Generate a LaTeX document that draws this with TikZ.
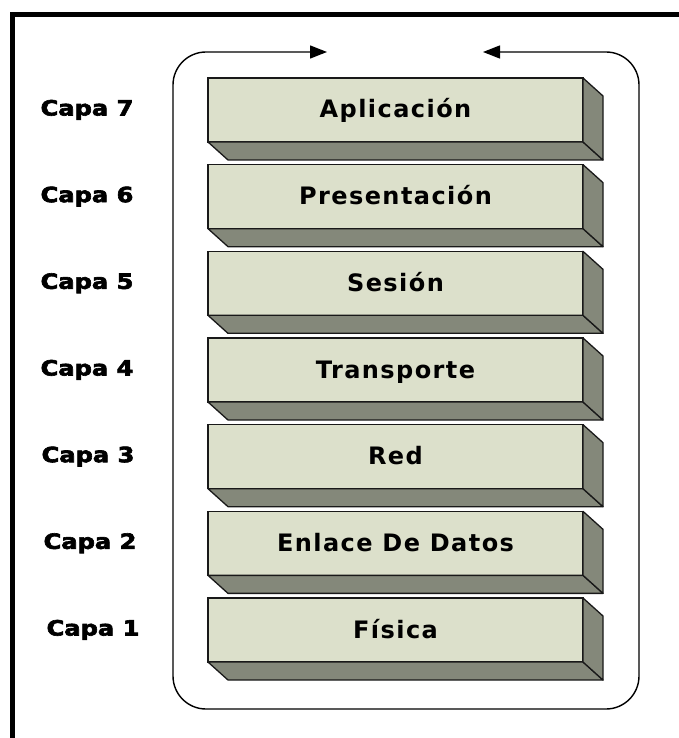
\documentclass[tikz,border=0pt]{standalone}
\usepackage{fontspec}
\setmainfont{DejaVu Sans}
\newfontfamily\layerfont{DejaVu Sans}[LetterSpace=6]
\newfontfamily\capafont{DejaVu Sans}[FakeStretch=1.15,FakeBold=3]
\usetikzlibrary{arrows.meta}
\definecolor{frontc}{RGB}{220,224,203}
\definecolor{sidec}{RGB}{132,136,122}
\definecolor{edgec}{RGB}{25,25,25}
\tikzset{
  frontbox/.style={draw=edgec, line width=1.3pt, fill=frontc, minimum width=375pt,
    minimum height=64pt, inner sep=0pt, outer sep=0pt, anchor=north west},
  face/.style={draw=edgec, line width=1.3pt, fill=sidec, line join=round},
  layertxt/.style={font=\layerfont\bfseries\fontsize{24}{26}\selectfont, anchor=base, inner sep=0pt},
  capatxt/.style={font=\capafont\bfseries\fontsize{21}{24}\selectfont, anchor=base, inner sep=0pt},
  loopline/.style={draw=black, line width=1.4pt, rounded corners=33pt,
    {Triangle[length=17pt,width=13pt]}-{Triangle[length=17pt,width=13pt]}},
  frame/.style={draw=black, line width=5pt}
}
\begin{document}
\begin{tikzpicture}[x=1pt,y=-1pt]
\useasboundingbox (0,0) rectangle (679,738);
\fill[white] (0,0) rectangle (679,738);
\draw[frame] (12.5,738) -- (12.5,14.5) -- (679,14.5);
\coordinate (arrR) at (483,52);
\coordinate (arrL) at (327,52);
\draw[loopline] (arrR) -- (639,52) -- (639,709) -- (173,709) -- (173,52) -- (arrL);
\foreach \txt/\cx [count=\k from 0] in {Aplicación/87, Presentación/87, Sesión/87, Transporte/87, Red/88, Enlace De Datos/90, Física/93} {
  \pgfmathsetmacro\yt{78+\k*86.67}
  \pgfmathtruncatemacro\cap{7-\k}
  \node[frontbox] (L\cap) at (208,\yt) {};
  \draw[face] (L\cap.south west) -- (L\cap.south east) -- ++(20,18) -- ++(-375,0) -- cycle;
  \draw[face] (L\cap.north east) -- ++(20,18) -- ++(0,64) -- (L\cap.south east) -- cycle;
  \node[layertxt] (T\cap) at (395.5,\yt+40) {\txt};
  \node[capatxt] (C\cap) at (\cx,\yt+37.5) {Capa \cap};
}
\end{tikzpicture}
\end{document}
